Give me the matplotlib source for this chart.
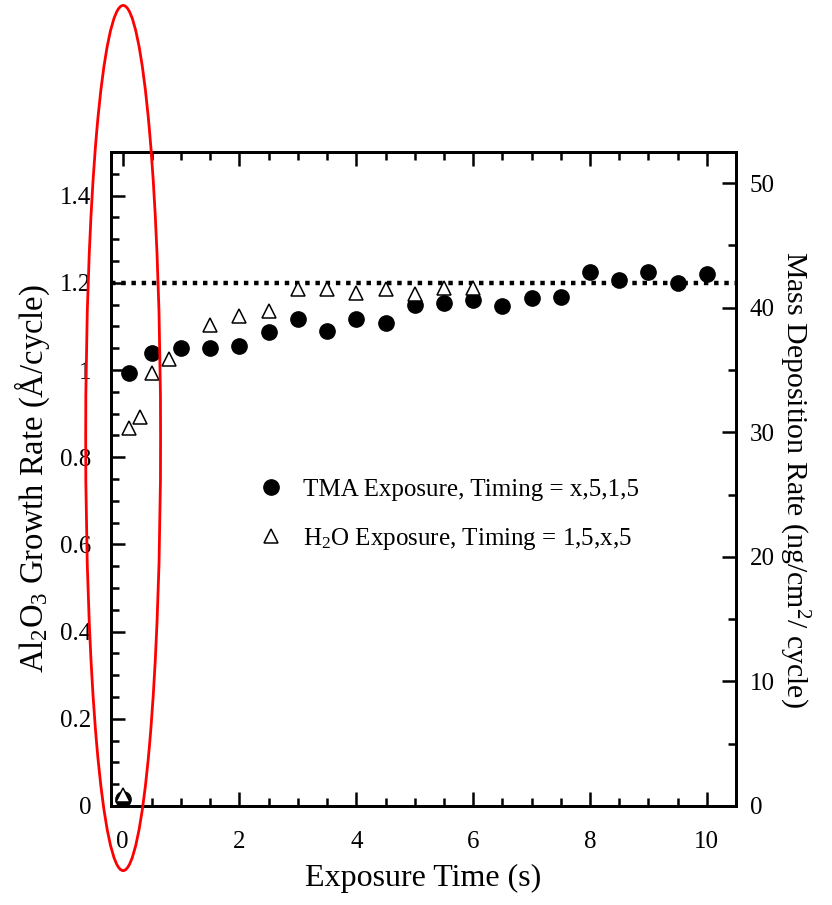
import matplotlib
matplotlib.use("Agg")
import matplotlib.pyplot as plt
import matplotlib.ticker as mtick
from matplotlib.patches import Ellipse

plt.rcParams['font.family'] = ['Liberation Serif', 'DejaVu Serif']
plt.rcParams['mathtext.fontset'] = 'custom'
plt.rcParams['mathtext.rm'] = 'Liberation Serif'
plt.rcParams['mathtext.it'] = 'Liberation Serif:italic'

# TMA exposure, timing = x,5,1,5 (filled circles)
tma_time = [0, 0.1, 0.5, 1.0, 1.5, 2.0, 2.5, 3.0, 3.5, 4.0, 4.5, 5.0, 5.5,
            6.0, 6.5, 7.0, 7.5, 8.0, 8.5, 9.0, 9.5, 10.0]
tma_rate = [0.015, 0.993, 1.04, 1.05, 1.05, 1.055, 1.087, 1.117, 1.09, 1.117,
            1.107, 1.149, 1.153, 1.16, 1.147, 1.165, 1.168, 1.225, 1.206,
            1.225, 1.2, 1.22]

# H2O exposure, timing = 1,5,x,5 (open triangles)
h2o_time = [0, 0.1, 0.3, 0.5, 0.8, 1.5, 2.0, 2.5, 3.0, 3.5, 4.0, 4.5, 5.0,
            5.5, 6.0]
h2o_rate = [0.025, 0.867, 0.892, 0.993, 1.025, 1.103, 1.124, 1.135, 1.185,
            1.185, 1.176, 1.185, 1.174, 1.188, 1.188]

saturation = 1.2
mass_factor = 35.0  # ng/cm^2 per Angstrom

fig = plt.figure(figsize=(8.32, 9.05), dpi=100)
ax = fig.add_axes([0.1334, 0.1094, 0.7512, 0.7226])
ax2 = ax.twinx()

ax.axhline(saturation, color='black', linestyle=(0, (1, 1.3)), linewidth=3.2, zorder=1)
ax.plot(tma_time, tma_rate, 'o', color='black', markersize=11,
        label='TMA Exposure, Timing = x,5,1,5', zorder=3)
ax.plot(h2o_time, h2o_rate, '^', markerfacecolor='white', markeredgecolor='black',
        markeredgewidth=1.1, markersize=10,
        label=r'H$_\mathrm{2}$O Exposure, Timing = 1,5,x,5', zorder=3)

ax.set_xlim(-0.2, 10.5)
ax.set_ylim(0, 1.5)
ax2.set_ylim(0, 1.5 * mass_factor)

ax.xaxis.set_major_locator(mtick.MultipleLocator(2))
ax.xaxis.set_minor_locator(mtick.MultipleLocator(0.5))
ax.yaxis.set_major_locator(mtick.MultipleLocator(0.2))
ax.yaxis.set_minor_locator(mtick.MultipleLocator(0.05))
ax.yaxis.set_major_formatter(mtick.FormatStrFormatter('%g'))
ax2.yaxis.set_major_locator(mtick.MultipleLocator(10))
ax2.yaxis.set_minor_locator(mtick.MultipleLocator(5))

for a in (ax, ax2):
    for s in a.spines.values():
        s.set_linewidth(2)
    a.tick_params(which='both', direction='in', width=1.8, labelsize=18)
    a.tick_params(which='major', length=10)
    a.tick_params(which='minor', length=6)
ax.tick_params(axis='y', which='both', right=False, pad=14)
ax.tick_params(axis='x', which='both', top=True, pad=18)
ax2.tick_params(axis='y', which='both', pad=10)

ax.set_xlabel('Exposure Time (s)', fontsize=23, labelpad=8)
ax.set_ylabel(r'Al$_\mathrm{2}$O$_\mathrm{3}$ Growth Rate (Å/cycle)', fontsize=23.5, labelpad=6)
ax2.set_ylabel(r'Mass Deposition Rate (ng/cm$^\mathrm{2}$/ cycle)', fontsize=21.5,
               rotation=270, labelpad=26)

ax.legend(loc='center left', bbox_to_anchor=(0.2, 0.445), frameon=False,
          fontsize=18, handletextpad=0.8, labelspacing=1.0, handlelength=1.0)

# red highlight ellipse around the zero-time points
ell = Ellipse((0.148, 0.516), 0.09, 0.956, transform=fig.transFigure,
              fill=False, edgecolor='red', linewidth=2, clip_on=False)
fig.add_artist(ell)

fig.savefig('out.png', dpi=100)
